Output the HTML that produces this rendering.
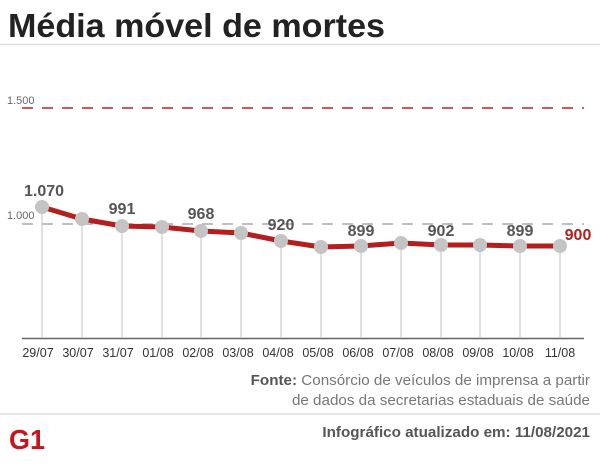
<!DOCTYPE html>
<html><head><meta charset="utf-8"><style>
body{margin:0;background:#fff;width:600px;height:462px;overflow:hidden;font-family:"Liberation Sans",sans-serif}
</style></head><body>
<svg width="600" height="462" xmlns="http://www.w3.org/2000/svg" font-family="Liberation Sans, sans-serif">
<text x="8" y="37" font-size="33" font-weight="bold" fill="#222" textLength="377" lengthAdjust="spacingAndGlyphs">Média móvel de mortes</text>
<line x1="0" y1="44.5" x2="600" y2="44.5" stroke="#ddd" stroke-width="1.5"/>
<text x="7" y="104" font-size="11" fill="#666">1.500</text>
<line x1="22" y1="108" x2="584" y2="108" stroke="#b22" stroke-width="1.5" stroke-dasharray="11,9"/>
<text x="7" y="219" font-size="11" fill="#666">1.000</text>
<line x1="22" y1="224" x2="584" y2="224" stroke="#999" stroke-width="1.2" stroke-dasharray="11,9"/>
<line x1="22" y1="338.5" x2="584" y2="338.5" stroke="#666" stroke-width="1.5"/>
<g stroke="#ccc" stroke-width="1.2">
<line x1="42" y1="207" x2="42" y2="338"/><line x1="82" y1="219" x2="82" y2="338"/><line x1="122" y1="226" x2="122" y2="338"/><line x1="162" y1="227" x2="162" y2="338"/><line x1="201" y1="231" x2="201" y2="338"/><line x1="241" y1="233" x2="241" y2="338"/><line x1="281" y1="241" x2="281" y2="338"/><line x1="321" y1="247" x2="321" y2="338"/><line x1="361" y1="246" x2="361" y2="338"/><line x1="401" y1="243" x2="401" y2="338"/><line x1="441" y1="245" x2="441" y2="338"/><line x1="480" y1="245" x2="480" y2="338"/><line x1="520" y1="246" x2="520" y2="338"/><line x1="560" y1="246" x2="560" y2="338"/>
</g>
<polyline points="42,207 82,219 122,226 162,227 201,231 241,233 281,241 321,247 361,246 401,243 441,245 480,245 520,246 560,246" fill="none" stroke="#b41e1e" stroke-width="5" stroke-linejoin="round"/>
<g fill="#c4c4c4">
<circle cx="42" cy="207" r="7"/><circle cx="82" cy="219" r="7"/><circle cx="122" cy="226" r="7"/><circle cx="162" cy="227" r="7"/><circle cx="201" cy="231" r="7"/><circle cx="241" cy="233" r="7"/><circle cx="281" cy="241" r="7"/><circle cx="321" cy="247" r="7"/><circle cx="361" cy="246" r="7"/><circle cx="401" cy="243" r="7"/><circle cx="441" cy="245" r="7"/><circle cx="480" cy="245" r="7"/><circle cx="520" cy="246" r="7"/><circle cx="560" cy="246" r="7"/>
</g>
<g font-size="16" font-weight="bold" fill="#555" text-anchor="middle">
<text x="44" y="196">1.070</text><text x="122" y="214">991</text><text x="201" y="219">968</text><text x="281" y="230">920</text><text x="361" y="236">899</text><text x="441" y="236">902</text><text x="520" y="236">899</text>
<text x="578" y="240" fill="#b41e1e">900</text>
</g>
<g font-size="12.5" fill="#333" text-anchor="middle">
<text x="38" y="357">29/07</text><text x="78" y="357">30/07</text><text x="118" y="357">31/07</text><text x="158" y="357">01/08</text><text x="198" y="357">02/08</text><text x="238" y="357">03/08</text><text x="278" y="357">04/08</text><text x="318" y="357">05/08</text><text x="358" y="357">06/08</text><text x="398" y="357">07/08</text><text x="438" y="357">08/08</text><text x="478" y="357">09/08</text><text x="518" y="357">10/08</text><text x="560" y="357">11/08</text>
</g>
<g font-size="15.2" fill="#777" text-anchor="end">
<text x="590" y="385"><tspan font-weight="bold" fill="#555">Fonte:</tspan> Consórcio de veículos de imprensa a partir</text>
<text x="590" y="405">de dados da secretarias estaduais de saúde</text>
</g>
<line x1="0" y1="414" x2="600" y2="414" stroke="#ddd" stroke-width="1.5"/>
<text x="590" y="437" font-size="15.2" font-weight="bold" fill="#555" text-anchor="end">Infográfico atualizado em: 11/08/2021</text>
<text x="9" y="449" font-size="28" font-weight="900" fill="#c4161c" textLength="36" lengthAdjust="spacingAndGlyphs">G1</text>
</svg>
</body></html>
